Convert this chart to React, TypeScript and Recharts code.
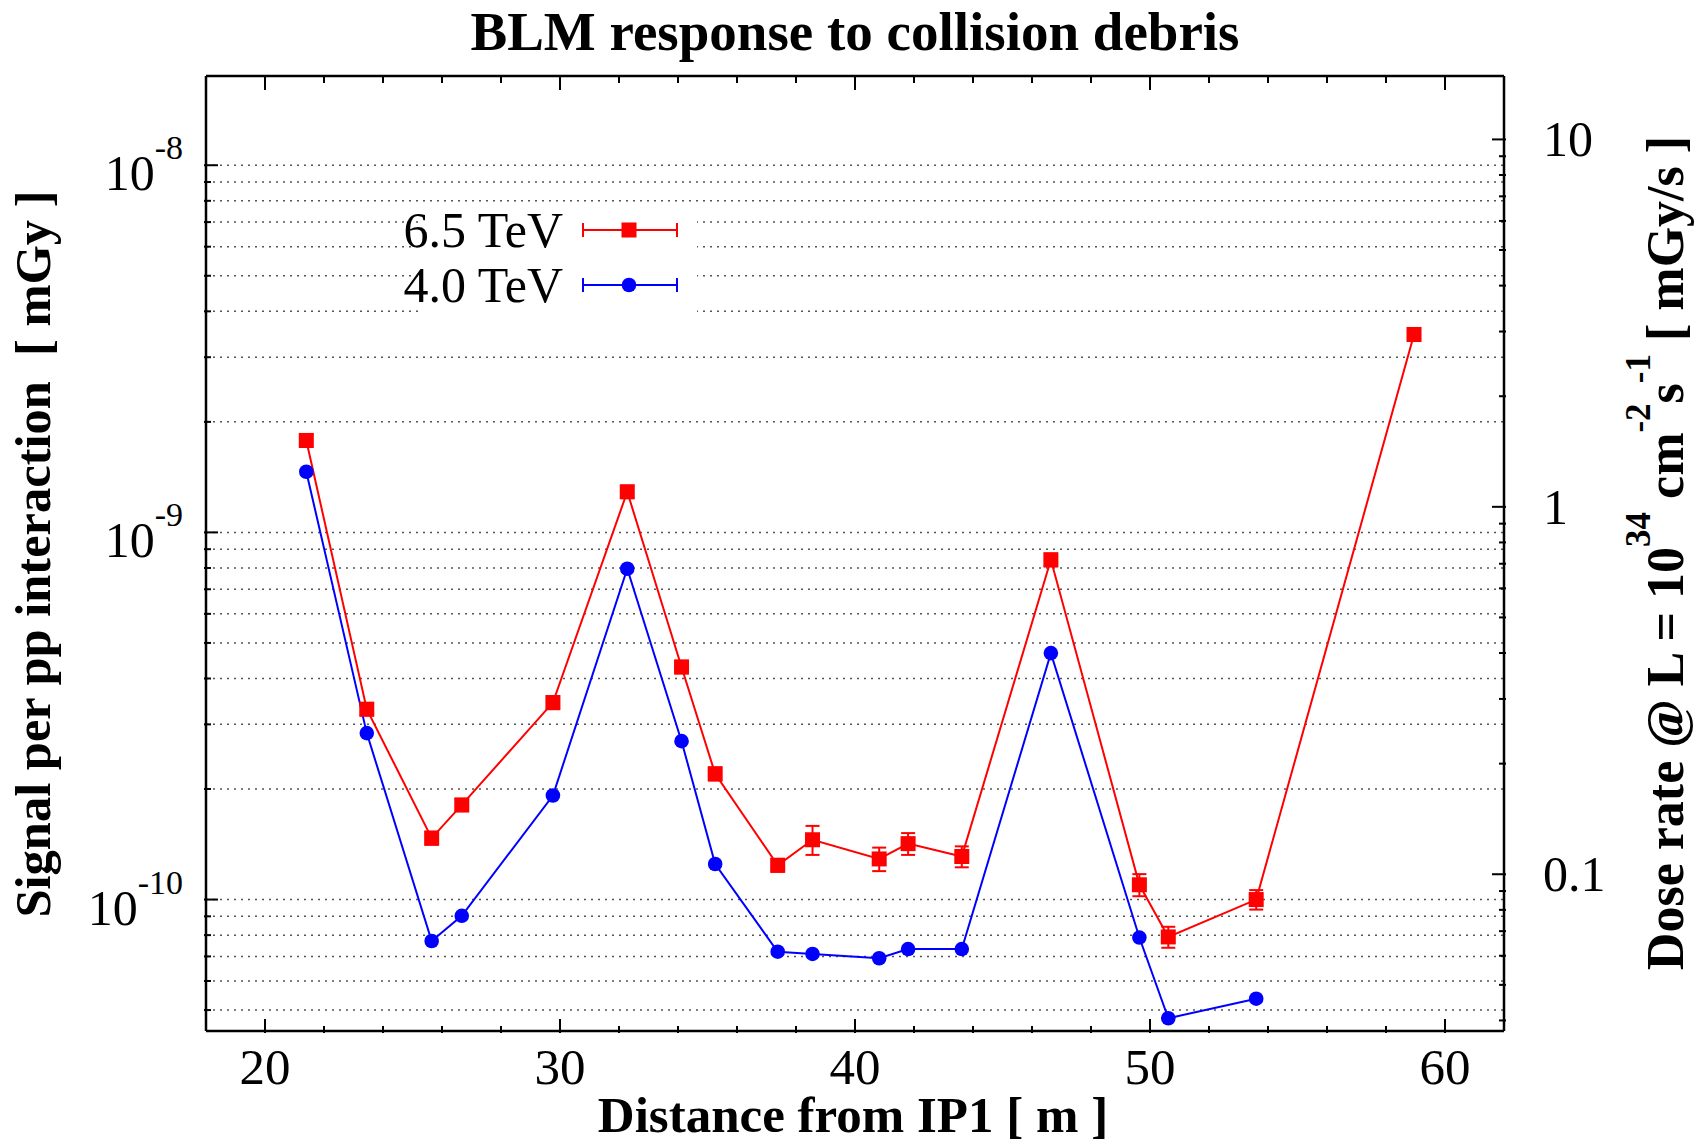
import React from "react";
import { LineChart, Line, XAxis, YAxis, CartesianGrid, ErrorBar, Legend } from "recharts";

const FONT = "'Liberation Serif', 'Times New Roman', serif";

// BLM positions, distance from IP1 [m]
const positions = [21.4, 23.45, 25.65, 26.67, 29.76, 32.28, 34.12, 35.26, 37.38, 38.56, 40.82, 41.8, 43.62, 46.64, 49.64, 50.62, 53.6, 58.95];

// signal per pp interaction [mGy]
const signal65 = [1.78e-9, 3.3e-10, 1.47e-10, 1.81e-10, 3.44e-10, 1.29e-9, 4.3e-10, 2.2e-10, 1.24e-10, 1.455e-10, 1.29e-10, 1.42e-10, 1.31e-10, 8.42e-10, 1.097e-10, 7.91e-11, 1.0e-10, 3.46e-9];
const signal65Err = [7e-11, 1.3e-11, 6e-12, 7e-12, 1.4e-11, 5e-11, 1.7e-11, 9e-12, 5e-12, 1.32e-11, 9.5e-12, 9.7e-12, 8.6e-12, 3.4e-11, 7.6e-12, 5.2e-12, 6.1e-12, 1.4e-10];
const signal40 = [1.463e-9, 2.84e-10, 7.71e-11, 9.03e-11, 1.92e-10, 7.96e-10, 2.7e-10, 1.25e-10, 7.21e-11, 7.11e-11, 6.92e-11, 7.33e-11, 7.33e-11, 4.69e-10, 7.88e-11, 4.75e-11, 5.37e-11, null];

const seriesNames = ["6.5 TeV", "4.0 TeV"];

const xTicks = [20, 22, 24, 26, 28, 30, 32, 34, 36, 38, 40, 42, 44, 46, 48, 50, 52, 54, 56, 58, 60];
const leftTicks = [
  5e-11, 6e-11, 7e-11, 8e-11, 9e-11,
  1e-10, 2e-10, 3e-10, 4e-10, 5e-10, 6e-10, 7e-10, 8e-10, 9e-10,
  1e-9, 2e-9, 3e-9, 4e-9, 5e-9, 6e-9, 7e-9, 8e-9, 9e-9,
  1e-8,
];
const rightTicks = [
  0.04, 0.05, 0.06, 0.07, 0.08, 0.09,
  0.1, 0.2, 0.3, 0.4, 0.5, 0.6, 0.7, 0.8, 0.9,
  1, 2, 3, 4, 5, 6, 7, 8, 9,
  10,
];

const rows = positions.map((pos, i) => ({
  pos,
  e65: signal65[i],
  e65err: signal65Err[i],
  e40: signal40[i],
}));

const isDecade = (v: number) => {
  const e = Math.log10(v);
  return Math.abs(e - Math.round(e)) < 1e-6;
};

const BottomTick = (p: any) => {
  const { x, y, payload } = p;
  const major = payload.value % 10 === 0;
  return (
    <g>
      <line x1={x} y1={y} x2={x} y2={y - (major ? 14 : 7)} stroke="#000" strokeWidth={2} />
      {major && (
        <text x={x} y={y + 51} textAnchor="middle" fontFamily={FONT} fontSize={51} fill="#000">
          {payload.value}
        </text>
      )}
    </g>
  );
};

const TopTick = (p: any) => {
  const { x, payload } = p;
  const major = payload.value % 10 === 0;
  return <line x1={x} y1={76} x2={x} y2={76 + (major ? 14 : 7)} stroke="#000" strokeWidth={2} />;
};

const LeftTick = (p: any) => {
  const { x, y, payload } = p;
  const v = payload.value;
  const major = isDecade(v);
  return (
    <g>
      <line x1={x} y1={y} x2={x + (major ? 14 : 7)} y2={y} stroke="#000" strokeWidth={2} />
      {major && (
        <text x={x - 21} y={y + 25} textAnchor="end" fontFamily={FONT} fontSize={50} fill="#000">
          10
          <tspan dy={-31} fontSize={34}>
            {String(Math.round(Math.log10(v)))}
          </tspan>
        </text>
      )}
    </g>
  );
};

const RightTick = (p: any) => {
  const { x, y, payload } = p;
  const v = payload.value;
  const major = isDecade(v);
  return (
    <g>
      <line x1={x} y1={y} x2={x - (major ? 14 : 7)} y2={y} stroke="#000" strokeWidth={2} />
      {major && (
        <text x={x + 37} y={y + 17} textAnchor="start" fontFamily={FONT} fontSize={50} fill="#000">
          {String(v)}
        </text>
      )}
    </g>
  );
};

const squareDot = (p: any) => {
  const { cx, cy, index } = p;
  if (cx == null || cy == null || isNaN(cy)) return <g key={`s-${index}`} />;
  return <rect key={`s-${index}`} x={cx - 7.5} y={cy - 7.5} width={15} height={15} fill="#ff0000" />;
};

const circleDot = (p: any) => {
  const { cx, cy, index } = p;
  if (cx == null || cy == null || isNaN(cy)) return <g key={`c-${index}`} />;
  return <circle key={`c-${index}`} cx={cx} cy={cy} r={7.3} fill="#0000ff" />;
};

const TitleLabel = () => (
  <text x={855} y={50} textAnchor="middle" fontFamily={FONT} fontSize={55} fontWeight="bold" fill="#000">
    BLM response to collision debris
  </text>
);

const XLabel = () => (
  <text x={853} y={1132} textAnchor="middle" fontFamily={FONT} fontSize={51} fontWeight="bold" fill="#000">
    Distance from IP1 [ m ]
  </text>
);

const LeftLabel = () => (
  <text
    x={50}
    y={554}
    transform="rotate(-90 50 554)"
    textAnchor="middle"
    fontFamily={FONT}
    fontSize={50.5}
    fontWeight="bold"
    fill="#000"
    style={{ whiteSpace: "pre" }}
  >
    Signal per pp interaction  [ mGy ]
  </text>
);

const RightLabel = () => (
  <text
    x={1683}
    y={553}
    transform="rotate(-90 1683 553)"
    textAnchor="middle"
    fontFamily={FONT}
    fontSize={52}
    fontWeight="bold"
    fill="#000"
    style={{ whiteSpace: "pre" }}
  >
    Dose rate @ L = 10
    <tspan dy={-33} fontSize={35}>34</tspan>
    <tspan dy={33}> cm</tspan>
    <tspan dy={-33} fontSize={35}>-2</tspan>
    <tspan dy={33}>s</tspan>
    <tspan dy={-33} fontSize={35}>-1</tspan>
    <tspan dy={33}> [ mGy/s ]</tspan>
  </text>
);

const LegendBox = (props: any) => {
  const items = [...(props.payload || [])].sort(
    (a: any, b: any) => seriesNames.indexOf(a.value) - seriesNames.indexOf(b.value)
  );
  return (
    <svg width={330} height={140} style={{ display: "block", overflow: "visible" }}>
      <rect x={38} y={15} width={279} height={112} fill="#fff" />
      {items.map((it: any, i: number) => {
        const ly = 40 + i * 55;
        const c = it.color;
        return (
          <g key={it.value}>
            <text x={183} y={ly + 17} textAnchor="end" fontFamily={FONT} fontSize={50} fill="#000">
              {it.value}
            </text>
            <line x1={203} y1={ly} x2={297} y2={ly} stroke={c} strokeWidth={2} />
            <line x1={203} y1={ly - 7} x2={203} y2={ly + 7} stroke={c} strokeWidth={2} />
            <line x1={297} y1={ly - 7} x2={297} y2={ly + 7} stroke={c} strokeWidth={2} />
            {it.value === seriesNames[0] ? (
              <rect x={241.5} y={ly - 7.5} width={15} height={15} fill={c} />
            ) : (
              <circle cx={249} cy={ly} r={7.3} fill={c} />
            )}
          </g>
        );
      })}
    </svg>
  );
};

export default function App() {
  return (
    <div style={{ position: "absolute", left: 0, top: 0, width: 1703, height: 1142, background: "#fff" }}>
      <LineChart width={1703} height={1142} data={rows} margin={{ top: 75, right: 0, bottom: 0, left: 0 }}>
        <CartesianGrid yAxisId="left" vertical={false} stroke="#555" strokeDasharray="2 5" strokeWidth={1.5} />
        <XAxis
          dataKey="pos"
          type="number"
          domain={[18, 62]}
          allowDataOverflow
          ticks={xTicks}
          interval={0}
          tickSize={0}
          tickLine={false}
          height={111}
          axisLine={{ stroke: "#000", strokeWidth: 2.5 }}
          tick={BottomTick}
          label={<XLabel />}
        />
        <XAxis
          xAxisId="top"
          orientation="top"
          dataKey="pos"
          type="number"
          domain={[18, 62]}
          allowDataOverflow
          ticks={xTicks}
          interval={0}
          tickSize={0}
          tickLine={false}
          height={1}
          axisLine={{ stroke: "#000", strokeWidth: 2.5 }}
          tick={TopTick}
          label={<TitleLabel />}
        />
        <YAxis
          yAxisId="left"
          scale="log"
          type="number"
          domain={[4.385e-11, 1.75e-8]}
          allowDataOverflow
          ticks={leftTicks}
          interval={0}
          tickSize={0}
          tickLine={false}
          width={206}
          axisLine={{ stroke: "#000", strokeWidth: 2.5 }}
          tick={LeftTick}
          label={<LeftLabel />}
        />
        <YAxis
          yAxisId="right"
          orientation="right"
          scale="log"
          type="number"
          domain={[0.03744, 14.88]}
          allowDataOverflow
          ticks={rightTicks}
          interval={0}
          tickSize={0}
          tickLine={false}
          width={199}
          axisLine={{ stroke: "#000", strokeWidth: 2.5 }}
          tick={RightTick}
          label={<RightLabel />}
        />
        <Legend
          content={LegendBox}
          layout="horizontal"
          verticalAlign="middle"
          align="center"
          wrapperStyle={{ left: 380, top: 190, width: 330, height: 140 }}
        />
        <Line
          yAxisId="left"
          name="6.5 TeV"
          type="linear"
          dataKey="e65"
          stroke="#ff0000"
          strokeWidth={2}
          dot={squareDot}
          activeDot={false}
          isAnimationActive={false}
        >
          <ErrorBar dataKey="e65err" direction="y" width={7} stroke="#ff0000" strokeWidth={2} isAnimationActive={false} />
        </Line>
        <Line
          yAxisId="left"
          name="4.0 TeV"
          type="linear"
          dataKey="e40"
          stroke="#0000ff"
          strokeWidth={2}
          dot={circleDot}
          activeDot={false}
          isAnimationActive={false}
        />
      </LineChart>
    </div>
  );
}
